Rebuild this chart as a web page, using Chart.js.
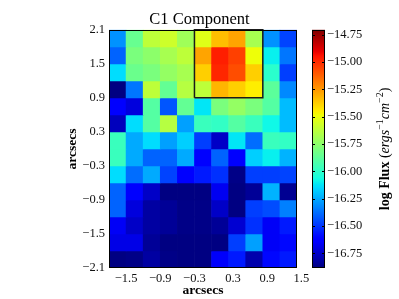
<!DOCTYPE html>
<html>
<head>
<meta charset="utf-8">
<script src="https://cdn.jsdelivr.net/npm/chart.js@4.4.1/dist/chart.umd.min.js"></script>
<style>
html,body{margin:0;padding:0;background:#fff;}
canvas{display:block;}
</style>
</head>
<body>
<canvas id="c" width="399" height="299"></canvas>
<script>
// ---- data: log flux per cell, rows from top (y=2.1) to bottom (y=-2.1) ----
const xEdges = [-1.8, -1.5, -1.2, -0.9, -0.6, -0.3, 0.0, 0.3, 0.6, 0.9, 1.2, 1.5];
const yEdges = [2.1, 1.8, 1.5, 1.2, 0.9, 0.6, 0.3, 0.0, -0.3, -0.6, -0.9, -1.2, -1.5, -1.8, -2.1];
const row01 = [-16.30, -15.85, -15.62, -15.58, -15.70, -15.53, -15.34, -15.28, -15.68, -16.30, -16.47];
const row02 = [-16.40, -15.80, -15.75, -15.68, -15.62, -15.28, -14.97, -15.05, -15.49, -16.10, -16.36];
const row03 = [-16.14, -15.84, -15.80, -15.73, -15.68, -15.38, -14.99, -15.08, -15.38, -16.01, -16.48];
const row04 = [-16.88, -16.36, -15.62, -15.86, -15.64, -15.62, -15.32, -15.38, -15.45, -15.88, -16.32];
const row05 = [-16.64, -16.71, -15.90, -16.43, -15.86, -16.12, -15.80, -15.73, -15.80, -15.90, -16.21];
const row06 = [-16.77, -16.14, -15.90, -15.64, -16.27, -15.97, -15.99, -15.90, -15.97, -16.08, -16.21];
const row07 = [-15.97, -16.25, -16.14, -16.27, -16.17, -16.48, -16.75, -16.12, -16.38, -15.97, -15.99];
const row08 = [-15.97, -16.25, -16.40, -16.40, -16.25, -16.64, -16.40, -16.64, -16.17, -16.10, -16.23];
const row09 = [-16.14, -16.38, -16.25, -16.47, -16.64, -16.56, -16.51, -16.87, -16.48, -16.48, -16.47];
const row10 = [-16.40, -16.64, -16.75, -16.88, -16.88, -16.88, -16.67, -16.88, -16.84, -16.23, -16.85];
const row11 = [-16.40, -16.71, -16.82, -16.84, -16.87, -16.87, -16.75, -16.88, -16.48, -16.45, -16.34];
const row12 = [-16.66, -16.75, -16.82, -16.84, -16.87, -16.87, -16.84, -16.73, -16.51, -16.66, -16.56];
const row13 = [-16.69, -16.69, -16.84, -16.88, -16.88, -16.88, -16.88, -16.48, -16.27, -16.66, -16.60];
const row14 = [-16.88, -16.87, -16.82, -16.87, -16.88, -16.88, -16.65, -16.56, -16.80, -16.60, -16.56];
const rows = [row01,row02,row03,row04,row05,row06,row07,row08,row09,row10,row11,row12,row13,row14];

// outlined region (arcsec)
const boxX = [-0.3, -0.3, 0.9, 0.9, -0.3];
const boxY = [0.9, 2.1, 2.1, 0.9, 0.9];

// ticks
const xTicks = [-1.5, -0.9, -0.3, 0.3, 0.9, 1.5];
const yTicks = [-2.1, -1.5, -0.9, -0.3, 0.3, 0.9, 1.5, 2.1];
const cbTicks = [-16.75, -16.5, -16.25, -16.0, -15.75, -15.5, -15.25, -15.0, -14.75];
const cbMin = -16.885, cbMax = -14.705;

// ---- jet colormap (matplotlib segment data) ----
const jetR = [[0,0],[0.35,0],[0.66,1],[0.89,1],[1,0.5]];
const jetG = [[0,0],[0.125,0],[0.375,1],[0.64,1],[0.91,0],[1,0]];
const jetB = [[0,0.5],[0.11,1],[0.34,1],[0.65,0],[1,0]];
function seg(p, v){
  for(let i=1;i<p.length;i++){
    if(v<=p[i][0]){const a=p[i-1],b=p[i];return a[1]+(b[1]-a[1])*(v-a[0])/(b[0]-a[0]);}
  }
  return p[p.length-1][1];
}
function jet(v){
  v=Math.max(0,Math.min(1,v));
  return 'rgb('+Math.round(255*seg(jetR,v))+','+Math.round(255*seg(jetG,v))+','+Math.round(255*seg(jetB,v))+')';
}
const norm = f => (f-cbMin)/(cbMax-cbMin);

// ---- datasets: one floating-bar dataset per image row + outline ----
const datasets = rows.map((r, ri) => ({
  type: 'bar',
  order: 1,
  data: r.map((f, ci) => ({x: (xEdges[ci]+xEdges[ci+1])/2, y: [yEdges[ri+1], yEdges[ri]], f: f})),
  backgroundColor: ctx => jet(norm(ctx.raw.f)),
  borderWidth: 0,
  grouped: false,
  barPercentage: 1,
  categoryPercentage: 1
}));
datasets.push({
  type: 'line',
  order: 0,
  data: boxX.map((x,i)=>({x:x, y:boxY[i]})),
  borderColor: '#1a1a1a',
  borderWidth: 1.5,
  pointRadius: 0,
  fill: false,
  tension: 0,
  clip: false
});

const fmt = d => v => {
  const s = Math.abs(v).toFixed(d);
  return v < -1e-9 ? '\u2212' + s : s;
};
const fmtX = v => {
  const s = Math.abs(v).toFixed(1);
  return v < -1e-9 ? '\u2212' + s : '\u2002\u2009' + s;
};
const tickFont = {family: 'Liberation Serif', size: 12.5};
const noPad = s => { s.paddingTop = 0; s.paddingBottom = 0; };

const framePlugin = {
  id: 'frame',
  afterDatasetsDraw(chart){
    const {ctx, chartArea: a} = chart;
    ctx.save();
    ctx.strokeStyle = '#000'; ctx.lineWidth = 1;
    ctx.strokeRect(Math.round(a.left)+0.5, Math.round(a.top)+0.5, Math.round(a.right-a.left)-1, Math.round(a.bottom-a.top)-1);
    ctx.restore();
  }
};

const colorbarPlugin = {
  id: 'colorbar',
  afterDraw(chart){
    const {ctx} = chart;
    const cb = chart.scales.cb;
    const x0 = Math.round(cb.left) + 15, w = 13;
    const yTop = cb.getPixelForValue(cbMax), yBot = cb.getPixelForValue(cbMin);
    ctx.save();
    const g = ctx.createLinearGradient(0, yBot, 0, yTop);
    for(let i=0;i<=100;i++) g.addColorStop(i/100, jet(i/100));
    ctx.fillStyle = g;
    ctx.fillRect(x0, yTop, w, yBot-yTop);
    ctx.strokeStyle = '#000'; ctx.lineWidth = 1;
    ctx.strokeRect(x0+0.5, Math.round(yTop)+0.5, w-1, Math.round(yBot-yTop)-1);
    ctx.beginPath();
    cbTicks.forEach(t => {
      const y = Math.round(cb.getPixelForValue(t))+0.5;
      ctx.moveTo(x0+w-3, y); ctx.lineTo(x0+w, y);
      ctx.moveTo(x0, y); ctx.lineTo(x0+3, y);
    });
    ctx.stroke();
    // colorbar label
    const segs = [
      {t:'log Flux ', f:'bold 14px "Liberation Serif"', sup:false},
      {t:'(', f:'14px "Liberation Serif"', sup:false},
      {t:'ergs', f:'italic 14px "Liberation Serif"', sup:false},
      {t:'\u22121', f:'10px "Liberation Serif"', sup:true},
      {t:'cm', f:'italic 14px "Liberation Serif"', sup:false},
      {t:'\u22122', f:'10px "Liberation Serif"', sup:true},
      {t:')', f:'14px "Liberation Serif"', sup:false}
    ];
    let total = 0;
    segs.forEach(s => { ctx.font = s.f; s.w = ctx.measureText(s.t).width; total += s.w; });
    const cx = x0 + 72, cy = (yTop + yBot)/2;
    ctx.translate(cx, cy);
    ctx.rotate(-Math.PI/2);
    ctx.fillStyle = '#000';
    ctx.textBaseline = 'alphabetic';
    let px = -total/2;
    segs.forEach(s => { ctx.font = s.f; ctx.fillText(s.t, px, s.sup ? -1 : 5); px += s.w; });
    ctx.restore();
  }
};

new Chart(document.getElementById('c'), {
  type: 'bar',
  data: {datasets},
  plugins: [framePlugin, colorbarPlugin],
  options: {
    responsive: false,
    devicePixelRatio: 1,
    animation: false,
    layout: {padding: 0, autoPadding: false},
    plugins: {
      legend: {display: false},
      tooltip: {enabled: false},
      title: {display: true, text: 'C1 Component', color: '#000',
        font: {family: 'Liberation Serif', size: 16.5, weight: 'normal'},
        padding: {top: 10, bottom: 0}}
    },
    scales: {
      x: {
        type: 'linear', position: 'bottom', min: -1.8, max: 1.5, offset: false,
        afterBuildTicks: s => { s.ticks = xTicks.map(v => ({value: v})); },
        afterFit: s => { s.height = 31; s.paddingLeft = 0; s.paddingRight = 0; },
        ticks: {callback: fmtX, font: tickFont, color: '#111', padding: 3, autoSkip: false, maxRotation: 0},
        grid: {display: false, drawTicks: false, offset: false},
        border: {display: false},
        title: {display: true, text: 'arcsecs', color: '#000',
          font: {family: 'Liberation Serif', size: 13.5, weight: 'bold'}, padding: {top: 0, bottom: 0}}
      },
      y: {
        type: 'linear', position: 'left', min: -2.1, max: 2.1,
        afterBuildTicks: s => { s.ticks = yTicks.map(v => ({value: v})); },
        afterFit: s => { s.width = 109; noPad(s); },
        ticks: {callback: fmt(1), font: tickFont, color: '#111', padding: 4, autoSkip: false},
        grid: {display: false, drawTicks: false},
        border: {display: false},
        title: {display: true, text: 'arcsecs', color: '#000',
          font: {family: 'Liberation Serif', size: 13.5, weight: 'bold'}, padding: {top: 64, bottom: 0}}
      },
      cb: {
        type: 'linear', position: 'right', min: cbMin, max: cbMax,
        afterBuildTicks: s => { s.ticks = cbTicks.map(v => ({value: v})); },
        afterFit: s => { s.width = 102; noPad(s); },
        ticks: {callback: fmt(2), font: tickFont, color: '#111', padding: 30, autoSkip: false},
        grid: {display: false, drawTicks: false},
        border: {display: false}
      }
    }
  }
});
</script>
</body>
</html>
